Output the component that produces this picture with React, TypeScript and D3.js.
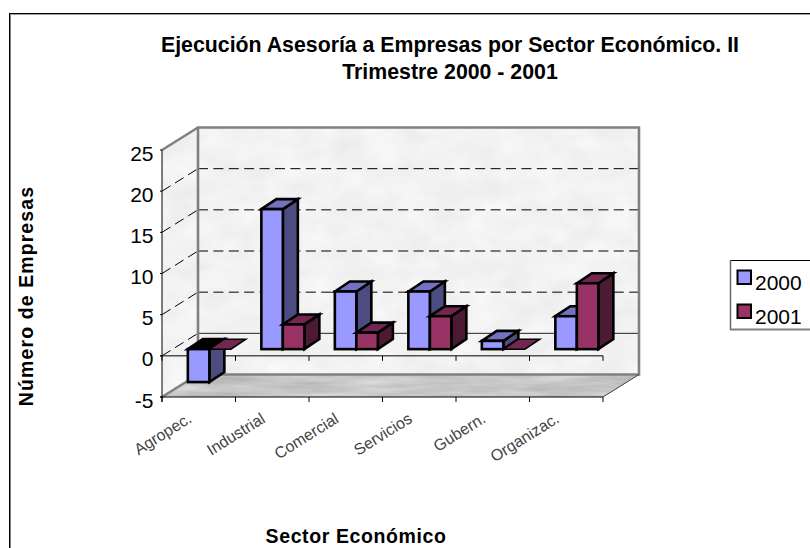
import React from "react";
import * as d3 from "d3";

const categories = ["Agropec.", "Industrial", "Comercial", "Servicios", "Gubern.", "Organizac."];
const seriesNames = ["2000", "2001"];
const values2000 = [-4, 17, 7, 7, 1, 4];
const values2001 = [0, 3, 2, 4, 0, 8];
const yTicks = [-5, 0, 5, 10, 15, 20, 25];
const wallGrid = [5, 10, 15, 20];
const titleLines = ["Ejecución Asesoría a Empresas por Sector Económico. II", "Trimestre 2000 - 2001"];

const FONT = "'Liberation Sans', Arial, sans-serif";
const y = d3.scaleLinear().domain([-5, 25]).range([397, 150]);
const x = d3.scaleBand<string>().domain(categories).range([162, 603]).paddingInner(0).paddingOuter(0);
const DX = 36, DY = -22.5; // wall depth
const ZX = 10.6, ZY = -6.7; // bar front plane
const BX = 15, BY = -10; // bar depth
const BW = 21.5;
const left = 162, right = 603;

const pts = (a: number[][]) => a.map((p) => p.join(",")).join(" ");

const palette = [
  { front: "#9999ff", top: "#7272c0", side: "#4c4c80" },
  { front: "#993366", top: "#732650", side: "#4c1a33" },
];

function Bar({ cat, value, s }: { cat: string; value: number; s: number }) {
  const gap = (x.bandwidth() - 2 * BW) / 2;
  const x0 = (x(cat) as number) + gap + ZX + s * BW;
  const x1 = x0 + BW;
  const base = y(0) + ZY;
  const yv = y(value) + ZY;
  const hi = Math.min(base, yv);
  const lo = Math.max(base, yv);
  const c = palette[s];
  const topFill = value < 0 ? "#000" : c.top;
  const common = { stroke: "#000", strokeWidth: 2.6, strokeLinejoin: "miter" as const };
  return (
    <g>
      {lo > hi && <polygon points={pts([[x1, hi], [x1 + BX, hi + BY], [x1 + BX, lo + BY], [x1, lo]])} fill={c.side} {...common} />}
      <polygon points={pts([[x0, hi], [x0 + BX, hi + BY], [x1 + BX, hi + BY], [x1, hi]])} fill={topFill} {...common} strokeWidth={lo > hi ? 2.6 : 1.5} />
      {lo > hi && <rect x={x0} y={hi} width={BW} height={lo - hi} fill={c.front} {...common} />}
    </g>
  );
}

export default function App() {
  const wallTop = y(25) + DY;
  const wallBot = y(-5) + DY;
  const ticksX = [...categories.map((c) => x(c) as number), right];
  return (
    <svg width={810} height={548} viewBox="0 0 810 548" style={{ position: "absolute", left: 0, top: 0, display: "block", background: "#fff" }} fontFamily={FONT}>
      <defs>
        <filter id="wallTex" x="0" y="0" width="100%" height="100%" colorInterpolationFilters="sRGB">
          <feTurbulence type="fractalNoise" baseFrequency="0.03 0.05" numOctaves={3} seed={4} result="n" />
          <feColorMatrix in="n" type="matrix" values="0.07 0 0 0 0.915  0.07 0 0 0 0.915  0.07 0 0 0 0.915  0 0 0 0 1" result="g" />
          <feComposite in="g" in2="SourceAlpha" operator="in" />
        </filter>
        <filter id="floorTex" x="0" y="0" width="100%" height="100%" colorInterpolationFilters="sRGB">
          <feTurbulence type="fractalNoise" baseFrequency="0.015 0.13" numOctaves={3} seed={7} result="n" />
          <feColorMatrix in="n" type="matrix" values="0.22 0 0 0 0.67  0.22 0 0 0 0.67  0.22 0 0 0 0.67  0 0 0 0 1" result="g" />
          <feComposite in="g" in2="SourceAlpha" operator="in" />
        </filter>
      </defs>

      {/* chart frame */}
      <line x1={9.5} y1={13} x2={9.5} y2={548} stroke="#000" strokeWidth={1} />
      <line x1={10.5} y1={14} x2={10.5} y2={548} stroke="#808080" strokeWidth={1} />
      <line x1={9} y1={13.5} x2={810} y2={13.5} stroke="#000" strokeWidth={1} />
      <line x1={10} y1={14.5} x2={810} y2={14.5} stroke="#a0a0a0" strokeWidth={1} />

      {/* title */}
      {titleLines.map((t, i) => (
        <text key={t} x={450} y={52 + i * 26.5} textAnchor="middle" fontWeight="bold" fontSize={21.3} fill="#000">{t}</text>
      ))}

      {/* walls */}
      <polygon points={pts([[left + DX, wallTop], [right + DX, wallTop], [right + DX, wallBot], [left + DX, wallBot]])} fill="#f2f2f2" filter="url(#wallTex)" />
      <polygon points={pts([[left, y(25)], [left + DX, wallTop], [left + DX, wallBot], [left, y(-5)]])} fill="#f2f2f2" filter="url(#wallTex)" />
      <polygon points={pts([[left, y(-5)], [right, y(-5)], [right + DX, wallBot], [left + DX, wallBot]])} fill="#c0c0c0" filter="url(#floorTex)" />

      {/* gridlines */}
      {wallGrid.map((v) => (
        <line key={v} x1={left + DX} x2={right + DX} y1={y(v) + DY} y2={y(v) + DY} stroke="#000" strokeWidth={1} strokeDasharray="10 5.4" />
      ))}
      <line x1={left + DX} x2={right + DX} y1={y(0) + DY} y2={y(0) + DY} stroke="#222" strokeWidth={1} />
      {[0, ...wallGrid].map((v) => (
        <line key={v} x1={left} x2={left + DX} y1={y(v)} y2={y(v) + DY} stroke="#000" strokeWidth={1} strokeDasharray="10 5.4" />
      ))}

      {/* wall borders */}
      <polyline points={pts([[left + DX, wallBot], [left + DX, wallTop], [right + DX, wallTop], [right + DX, wallBot], [left + DX, wallBot]])} fill="none" stroke="#808080" strokeWidth={2.6} />
      <line x1={left} y1={y(25)} x2={left + DX} y2={wallTop} stroke="#808080" strokeWidth={2.6} />
      <line x1={left} y1={y(-5)} x2={left + DX} y2={wallBot} stroke="#808080" strokeWidth={2.6} />
      <line x1={right} y1={y(-5)} x2={right + DX} y2={wallBot} stroke="#404040" strokeWidth={1} />

      {/* axes */}
      <line x1={left - 2} y1={y(0)} x2={right} y2={y(0)} stroke="#000" strokeWidth={1} />
      <line x1={left - 2} y1={y(-5)} x2={right} y2={y(-5)} stroke="#000" strokeWidth={1} />
      <line x1={left} y1={y(25)} x2={left} y2={y(-5) + 5} stroke="#000" strokeWidth={1} />
      {ticksX.map((t) => (
        <g key={t}>
          <line x1={t} x2={t} y1={y(0)} y2={y(0) + 5} stroke="#000" strokeWidth={1} />
          <line x1={t} x2={t} y1={y(-5)} y2={y(-5) + 5} stroke="#000" strokeWidth={1} />
        </g>
      ))}
      {yTicks.map((v) => (
        <g key={v}>
          <line x1={left - 2} x2={left} y1={y(v)} y2={y(v)} stroke="#000" strokeWidth={1} />
          <text x={153.5} y={y(v) + 10.5} textAnchor="end" fontSize={21} fill="#000">{v}</text>
        </g>
      ))}

      {/* bars */}
      {categories.map((c, i) => (
        <g key={c}>
          <Bar cat={c} value={values2000[i]} s={0} />
          <Bar cat={c} value={values2001[i]} s={1} />
        </g>
      ))}

      {/* category labels */}
      {categories.map((c) => {
        const ax = (x(c) as number) + x.bandwidth() / 2 - 6;
        return (
          <text key={c} transform={`translate(${ax},${y(-5) + 24.5}) rotate(-32)`} textAnchor="end" fontSize={16} fill="#444">{c}</text>
        );
      })}

      {/* axis titles */}
      <text x={356} y={543} textAnchor="middle" fontWeight="bold" fontSize={19.5} letterSpacing={0.6} fill="#000">Sector Económico</text>
      <text transform="translate(33,296) rotate(-90)" textAnchor="middle" fontWeight="bold" fontSize={19.5} letterSpacing={1.1} fill="#000">Número de Empresas</text>

      {/* legend */}
      <line x1={730} y1={260.5} x2={810} y2={260.5} stroke="#000" strokeWidth={1} />
      <line x1={730.5} y1={260} x2={730.5} y2={330} stroke="#666" strokeWidth={1.5} />
      <line x1={730} y1={329.5} x2={810} y2={329.5} stroke="#808080" strokeWidth={2} />
      {seriesNames.map((n, i) => (
        <g key={n}>
          <rect x={737.5} y={270.5 + i * 34} width={13.5} height={13.5} fill={palette[i].front} stroke="#000" strokeWidth={2} />
          <text x={755} y={289.5 + i * 34} fontSize={21} fill="#000">{n}</text>
        </g>
      ))}
    </svg>
  );
}
